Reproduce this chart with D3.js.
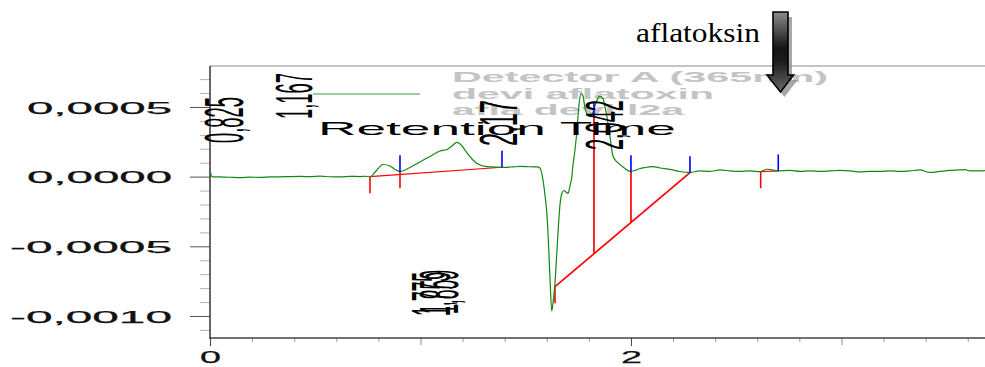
<!DOCTYPE html>
<html>
<head>
<meta charset="utf-8">
<script src="https://cdn.jsdelivr.net/npm/d3@7/dist/d3.min.js"></script>
<style>
  html, body { margin: 0; padding: 0; background: #fff; overflow: hidden; }
  text { font-family: "Liberation Sans", Arial, sans-serif; }
</style>
</head>
<body>
<svg id="chart" width="985" height="367"></svg>
<script>
// Chromatogram trace: retention time (min) and detector signal (AU)
const times = [
  0.0024, 0.0095, 0.0475, 0.0950, 0.1425, 0.1900, 0.2375, 0.2850, 0.3325, 0.3800,
  0.4276, 0.4751, 0.5226, 0.5701, 0.6176, 0.6651, 0.7126, 0.7363, 0.7601, 0.7886,
  0.8219, 0.8551, 0.8789, 0.9026, 0.9501, 0.9976, 1.0451, 1.0926, 1.1259, 1.1496,
  1.1734, 1.1971, 1.2209, 1.2447, 1.2684, 1.3159, 1.3539, 1.3919, 1.4347, 1.4727,
  1.5202, 1.5534, 1.5677, 1.5819, 1.5914, 1.6010, 1.6105, 1.6176, 1.6233, 1.6295,
  1.6390, 1.6485, 1.6556, 1.6627, 1.6722, 1.6817, 1.6912, 1.7007, 1.7102, 1.7183,
  1.7245, 1.7340, 1.7435, 1.7530, 1.7625, 1.7720, 1.7815, 1.7933, 1.8052, 1.8195,
  1.8337, 1.8432, 1.8527, 1.8670, 1.8765, 1.8860, 1.9002, 1.9145, 1.9335, 1.9477,
  1.9715, 1.9952, 2.0190, 2.0428, 2.0665, 2.1045, 2.1378, 2.1853, 2.2328, 2.2803,
  2.3278, 2.3753, 2.4228, 2.4703, 2.5178, 2.5653, 2.6128, 2.6461, 2.6698, 2.6983,
  2.7553, 2.8029, 2.8504, 2.8979, 2.9454, 2.9929, 3.0404, 3.0879, 3.1354, 3.1829,
  3.2304, 3.2779, 3.3254, 3.3729, 3.4204, 3.4679, 3.5154, 3.5629, 3.5867, 3.6105,
  3.6580, 3.6817
];
const absorbance = [
  0.0000300, -0.0000010, -0.0000024, -0.0000045, -0.0000067, -0.0000038, -0.0000052, -0.0000024, -0.0000017, 0.0000005,
  0.0000012, -0.0000002, 0.0000034, -0.0000009, -0.0000024, 0.0000019, 0.0000005, 0.0000027, -0.0000009, 0.0000407,
  0.0000873, 0.0000766, 0.0000515, 0.0000371, 0.0000658, 0.0001053, 0.0001448, 0.0001842, 0.0001950, 0.0002201,
  0.0002452, 0.0002201, 0.0001699, 0.0001268, 0.0000945, 0.0000716, 0.0000680, 0.0000672, 0.0000694, 0.0000730,
  0.0000708, 0.0000701, 0.0000622, -0.0000239, -0.0001316, -0.0002751, -0.0005622, -0.0008134, -0.0009641, -0.0009067,
  -0.0007631, -0.0005263, -0.0003469, -0.0002033, -0.0001172, -0.0000993, -0.0001100, -0.0001194, -0.0000670, -0.0000095,
  0.0000838, 0.0001914, 0.0003350, 0.0005144, 0.0005969, 0.0005790, 0.0004928, 0.0004426, 0.0004297, 0.0004641,
  0.0005287, 0.0005646, 0.0005754, 0.0005610, 0.0005000, 0.0004283, 0.0002883, 0.0001483, 0.0001053, 0.0000873,
  0.0000586, 0.0000371, 0.0000443, 0.0000586, 0.0000658, 0.0000716, 0.0000622, 0.0000515, 0.0000371, 0.0000299,
  0.0000407, 0.0000371, 0.0000479, 0.0000407, 0.0000371, 0.0000407, 0.0000357, 0.0000529, 0.0000479, 0.0000407,
  0.0000443, 0.0000371, 0.0000407, 0.0000371, 0.0000407, 0.0000443, 0.0000407, 0.0000335, 0.0000371, 0.0000371,
  0.0000407, 0.0000371, 0.0000407, 0.0000479, 0.0000299, 0.0000371, 0.0000443, 0.0000479, 0.0000507, 0.0000407,
  0.0000407, 0.0000428
];

// Integration baselines: [start time, start value, end time, end value]
const baselineStartT = [0.7601, 1.6390, 2.6162];
const baselineStartV = [0.0000000, -0.0007897, 0.0000357];
const baselineEndT   = [1.3872, 2.2803, 2.6998];
const baselineEndV   = [0.0000672, 0.0000285, 0.0000407];

// Peak start markers (red, pointing down from the signal)
const startMarkT = [0.7601, 0.9026, 1.6390, 2.6162];
const startMarkV = [0.0000000, 0.0000357, -0.0007897, 0.0000357];

// Peak end markers (blue, pointing up from the signal)
const endMarkT = [0.9026, 1.3872, 1.8242, 2.0000, 2.2803, 2.6998];
const endMarkV = [0.0000357, 0.0000672, 0.0004210, 0.0000357, 0.0000285, 0.0000407];

// Drop lines from the signal to the skimmed baseline
const dropT    = [1.8242, 2.0000];
const dropTopV = [0.0004210, 0.0000357];
const dropBotV = [-0.0005514, -0.0003290];

// Axis ticks
const yTickValues = [0.0005, 0, -0.0005, -0.0010];
const yTickLabels = ["0,0005", "0,0000", "-0,0005", "-0,0010"];
const xTickValues = [0, 2];
const xTickLabels = ["0", "2"];
const xMidTicks = [1, 3];

// Retention time labels
const rtLabels = ["0,825", "1,167", "2,17", "2,042", "1,775", "1,859"];

// Legend lines
const legendLines = ["Detector A (365nm)", "devi aflatoxin", "afla devi l2a"];
const axisTitle = "Retention Time";
const annotation = "aflatoksin";

const svg = d3.select("#chart");
const plot = { left: 210, right: 985, top: 66, bottom: 338 };

const x = d3.scaleLinear().domain([0, 3.682]).range([plot.left, plot.right]);
const y = d3.scaleLinear().domain([-0.001158, 0.000794]).range([plot.bottom, plot.top]);

const defs = svg.append("defs");
const grad = defs.append("linearGradient").attr("id", "arrowFill")
  .attr("x1", 0).attr("y1", 0).attr("x2", 0).attr("y2", 1);
grad.append("stop").attr("offset", "0%").attr("stop-color", "#8c8c8c");
grad.append("stop").attr("offset", "45%").attr("stop-color", "#141414");
grad.append("stop").attr("offset", "62%").attr("stop-color", "#1c1c1c");
grad.append("stop").attr("offset", "100%").attr("stop-color", "#6a6a6a");

// Frame
svg.append("line")
  .attr("x1", plot.left).attr("x2", plot.right)
  .attr("y1", plot.top).attr("y2", plot.top)
  .attr("stroke", "#8a8a8a").attr("stroke-width", 1);

// Minor y ticks
const yMinor = d3.range(-11, 8).map(i => +(i * 0.0001).toFixed(4))
  .filter(v => !yTickValues.some(t => Math.abs(t - v) < 1e-9));
svg.append("g").attr("transform", `translate(${plot.left},0)`)
  .call(d3.axisLeft(y).tickValues(yMinor).tickSize(10).tickFormat(""))
  .call(g => g.select(".domain").remove())
  .call(g => g.selectAll("line").attr("stroke", "#b4b4b4"));

// Major y ticks with labels
const yLabelLen = { "0,0005": 145, "0,0000": 145, "-0,0005": 162, "-0,0010": 162 };
svg.append("g").attr("transform", `translate(${plot.left},0)`)
  .call(d3.axisLeft(y).tickValues(yTickValues).tickSize(20).tickPadding(18)
    .tickFormat((d, i) => yTickLabels[i]))
  .call(g => g.select(".domain").remove())
  .call(g => g.selectAll("line").attr("stroke", "#555"))
  .call(g => g.selectAll("text")
    .attr("font-size", 17).attr("fill", "#111").attr("dy", "0.36em")
    .attr("stroke", "#111").attr("stroke-width", 0.25)
    .style("font-family", "'Liberation Sans', Arial, sans-serif")
    .attr("textLength", function() { return yLabelLen[this.textContent]; })
    .attr("lengthAdjust", "spacingAndGlyphs"));

// X ticks
const xMinor = d3.range(1, 19).map(i => +(i * 0.2).toFixed(1))
  .filter(v => ![1, 2, 3].includes(v));
svg.append("g").attr("transform", `translate(0,${plot.bottom})`)
  .call(d3.axisBottom(x).tickValues(xMinor).tickSize(4).tickFormat(""))
  .call(g => g.select(".domain").remove())
  .call(g => g.selectAll("line").attr("stroke", "#999"));
svg.append("g").attr("transform", `translate(0,${plot.bottom})`)
  .call(d3.axisBottom(x).tickValues(xMidTicks).tickSize(7).tickFormat(""))
  .call(g => g.select(".domain").remove())
  .call(g => g.selectAll("line").attr("stroke", "#888"));
svg.append("g").attr("transform", `translate(0,${plot.bottom})`)
  .call(d3.axisBottom(x).tickValues(xTickValues).tickSize(8).tickPadding(5)
    .tickFormat((d, i) => xTickLabels[i]))
  .call(g => g.select(".domain").remove())
  .call(g => g.selectAll("line").attr("stroke", "#444"))
  .call(g => g.selectAll("text")
    .attr("font-size", 17).attr("fill", "#111")
    .attr("stroke", "#111").attr("stroke-width", 0.25)
    .style("font-family", "'Liberation Sans', Arial, sans-serif")
    .attr("textLength", 21).attr("lengthAdjust", "spacingAndGlyphs"));

// Axis lines
svg.append("line")
  .attr("x1", plot.left).attr("x2", plot.left)
  .attr("y1", plot.top).attr("y2", plot.bottom + 1)
  .attr("stroke", "#333").attr("stroke-width", 1.5);
svg.append("line")
  .attr("x1", plot.left).attr("x2", plot.right)
  .attr("y1", plot.bottom).attr("y2", plot.bottom)
  .attr("stroke", "#444").attr("stroke-width", 1.3);

// Legend
const legend = svg.append("g");
const legendLen = [376, 262, 232];
legend.selectAll("text").data(legendLines).join("text")
  .attr("x", 452).attr("y", (d, i) => 82 + i * 16.5)
  .attr("font-size", 15.5).attr("font-weight", "bold").attr("fill", "#c4c4c4")
  .attr("textLength", (d, i) => legendLen[i]).attr("lengthAdjust", "spacingAndGlyphs")
  .text(d => d);
legend.append("line")
  .attr("x1", 313).attr("x2", 420).attr("y1", 94).attr("y2", 94)
  .attr("stroke", "#3a9a3a").attr("stroke-width", 1);

// Integration baselines
const baseData = baselineStartT.map((t, i) => ({
  t0: t, v0: baselineStartV[i], t1: baselineEndT[i], v1: baselineEndV[i]
}));
svg.append("g").selectAll("line").data(baseData).join("line")
  .attr("x1", d => x(d.t0)).attr("y1", d => y(d.v0))
  .attr("x2", d => x(d.t1)).attr("y2", d => y(d.v1))
  .attr("stroke", "#ff0000").attr("stroke-width", (d, i) => i === 1 ? 1.7 : 1.1);

// Drop lines
svg.append("g").selectAll("line").data(dropT).join("line")
  .attr("x1", d => x(d)).attr("x2", d => x(d))
  .attr("y1", (d, i) => y(dropTopV[i])).attr("y2", (d, i) => y(dropBotV[i]))
  .attr("stroke", "#ff0000").attr("stroke-width", 1.7);

// Start markers
const markLen = 16.5;
svg.append("g").selectAll("line").data(startMarkT).join("line")
  .attr("x1", d => x(d)).attr("x2", d => x(d))
  .attr("y1", (d, i) => y(startMarkV[i])).attr("y2", (d, i) => y(startMarkV[i]) + markLen)
  .attr("stroke", "#ff0000").attr("stroke-width", 1.6);

// Chromatogram trace
const trace = times.map((t, i) => ({ t, v: absorbance[i] }));
svg.append("path").datum(trace)
  .attr("fill", "none").attr("stroke", "#118811").attr("stroke-width", 1.2)
  .attr("stroke-linejoin", "round")
  .attr("d", d3.line().x(d => x(d.t)).y(d => y(d.v)).curve(d3.curveMonotoneX));

// End markers
svg.append("g").selectAll("line").data(endMarkT).join("line")
  .attr("x1", d => x(d)).attr("x2", d => x(d))
  .attr("y1", (d, i) => y(endMarkV[i])).attr("y2", (d, i) => y(endMarkV[i]) - markLen)
  .attr("stroke", "#0000ff").attr("stroke-width", 1.6);

// Axis title
svg.append("text")
  .attr("x", 318).attr("y", 135)
  .attr("font-size", 19).attr("fill", "#000")
  .attr("textLength", 358).attr("lengthAdjust", "spacingAndGlyphs")
  .text(axisTitle);

// Retention time labels: rotated, narrow and tall glyphs.
// Drawn at a small size, then scaled along the glyph height.
const rtLayout = [
  { bx: 243, by: 143, len: 46, h: 40 },
  { bx: 312, by: 119, len: 46, h: 37 },
  { bx: 517, by: 146, len: 46, h: 39 },
  { bx: 623, by: 150, len: 50, h: 38 },
  { bx: 450, by: 316, len: 44, h: 40 },
  { bx: 458, by: 314, len: 44, h: 40 }
];
const rtBaseSize = 14;
const digitHeight = 0.716 * rtBaseSize;
svg.append("g").selectAll("text").data(rtLabels).join("text")
  .attr("font-size", rtBaseSize).attr("fill", "#000")
  .text(d => d)
  .each(function(d, i) {
    const L = this.getComputedTextLength();
    const sx = rtLayout[i].len / L;
    const sy = rtLayout[i].h / digitHeight;
    d3.select(this).attr("transform",
      `translate(${rtLayout[i].bx},${rtLayout[i].by}) rotate(-90) scale(${sx},${sy})`);
  });

// Annotation with arrow
svg.append("text")
  .attr("x", 636).attr("y", 42)
  .attr("font-size", 28).attr("fill", "#000")
  .attr("textLength", 124).attr("lengthAdjust", "spacingAndGlyphs")
  .style("font-family", "'Liberation Serif', 'Times New Roman', serif")
  .text(annotation);
const arrowPath = "M773,12 H788 V75 H793.5 L780.5,92 L767,75 H773 Z";
svg.append("path").attr("d", arrowPath)
  .attr("transform", "translate(4,5)")
  .attr("fill", "#8a8a8a").attr("opacity", 0.75);
svg.append("path").attr("d", arrowPath)
  .attr("fill", "url(#arrowFill)").attr("stroke", "#000").attr("stroke-width", 1.6)
  .attr("stroke-linejoin", "miter");
</script>
</body>
</html>
